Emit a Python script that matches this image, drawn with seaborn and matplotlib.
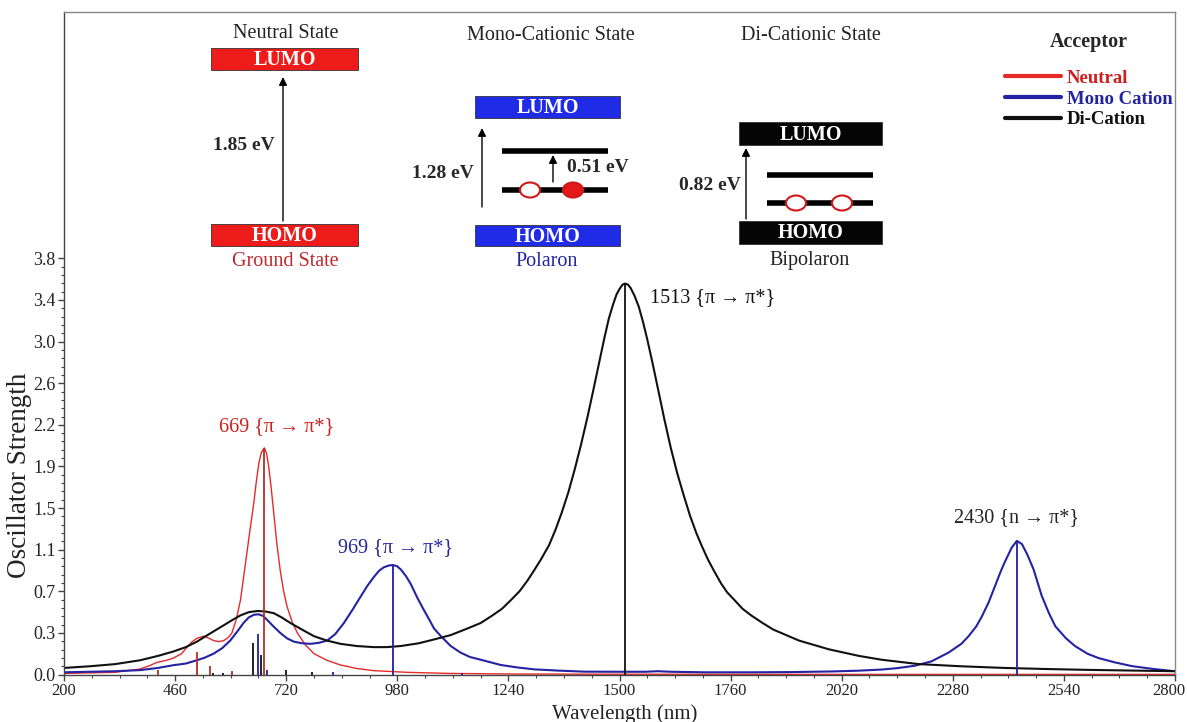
import matplotlib
matplotlib.use("Agg")
import numpy as np
import pandas as pd
import matplotlib.pyplot as plt
import matplotlib.transforms as mtransforms
import seaborn as sns
from matplotlib.ticker import AutoMinorLocator, FixedLocator
from matplotlib.patches import Rectangle, Ellipse
from matplotlib.lines import Line2D

# ---- spectra (wavelength nm, oscillator strength) ----
neutral_nm = [200, 260, 320, 378, 400, 417, 440, 456, 475, 488,
              500, 511, 527, 540, 550, 562, 574, 585, 593, 603,
              613, 620, 628, 636, 644, 650, 656, 662, 669, 674,
              679, 685, 691, 698, 706, 714, 722, 734, 746, 765,
              785, 815, 847, 885, 925, 1003, 1100, 1240, 1400, 1700,
              2000, 2400, 2800]
neutral_f = [0.01, 0.015, 0.02, 0.05, 0.08, 0.11, 0.13, 0.15, 0.19, 0.25,
             0.30, 0.33, 0.35, 0.33, 0.31, 0.30, 0.31, 0.34, 0.38, 0.50,
             0.68, 0.88, 1.11, 1.34, 1.56, 1.76, 1.93, 2.03, 2.07, 2.02,
             1.90, 1.70, 1.47, 1.20, 0.95, 0.76, 0.62, 0.48, 0.38, 0.27,
             0.19, 0.13, 0.087, 0.055, 0.035, 0.02, 0.01, 0.005, 0.003, 0.002,
             0.001, 0.001, 0.001]

mono_nm = [200, 260, 320, 378, 420, 456, 485, 511, 530, 550,
           570, 589, 605, 620, 632, 644, 655, 666, 675, 690,
           706, 722, 738, 757, 777, 797, 816, 835, 855, 875,
           894, 910, 925, 938, 949, 960, 969, 979, 988, 1000,
           1011, 1027, 1042, 1055, 1066, 1082, 1105, 1128, 1150, 1180,
           1222, 1260, 1300, 1360, 1418, 1500, 1560, 1590, 1620, 1700,
           1808, 1900, 2000, 2060, 2113, 2150, 2191, 2230, 2270, 2300,
           2317, 2335, 2348, 2364, 2379, 2392, 2402, 2418, 2430, 2442,
           2455, 2469, 2488, 2505, 2520, 2545, 2566, 2595, 2621, 2660,
           2700, 2750, 2800]
mono_f = [0.02, 0.025, 0.03, 0.04, 0.06, 0.085, 0.10, 0.13, 0.155, 0.19,
          0.24, 0.31, 0.39, 0.47, 0.52, 0.545, 0.55, 0.535, 0.50, 0.44,
          0.38, 0.33, 0.30, 0.285, 0.28, 0.29, 0.31, 0.37, 0.47, 0.59,
          0.71, 0.81, 0.89, 0.95, 0.98, 0.995, 1.0, 0.99, 0.96, 0.90,
          0.83, 0.70, 0.59, 0.50, 0.42, 0.35, 0.26, 0.20, 0.16, 0.13,
          0.087, 0.065, 0.047, 0.035, 0.026, 0.025, 0.025, 0.03, 0.025, 0.02,
          0.02, 0.022, 0.028, 0.035, 0.045, 0.058, 0.08, 0.12, 0.20, 0.28,
          0.35, 0.44, 0.53, 0.66, 0.81, 0.94, 1.03, 1.16, 1.22, 1.19,
          1.09, 0.96, 0.72, 0.56, 0.44, 0.33, 0.26, 0.19, 0.15, 0.11,
          0.076, 0.05, 0.03]

di_nm = [200, 260, 320, 378, 420, 456, 485, 511, 540, 574,
         595, 613, 633, 653, 672, 691, 710, 730, 757, 785,
         815, 847, 885, 925, 955, 988, 1030, 1066, 1105, 1144,
         1175, 1199, 1225, 1246, 1266, 1285, 1300, 1316, 1335, 1350,
         1365, 1380, 1395, 1410, 1425, 1440, 1453, 1465, 1475, 1485,
         1493, 1500, 1507, 1513, 1520, 1526, 1535, 1545, 1555, 1565,
         1577, 1590, 1605, 1620, 1635, 1650, 1665, 1680, 1693, 1707,
         1722, 1738, 1752, 1769, 1788, 1808, 1835, 1860, 1890, 1920,
         1955, 1990, 2025, 2060, 2113, 2200, 2300, 2400, 2500, 2600,
         2700, 2800]
di_f = [0.06, 0.075, 0.095, 0.13, 0.17, 0.21, 0.25, 0.30, 0.37, 0.45,
        0.50, 0.54, 0.57, 0.58, 0.575, 0.56, 0.52, 0.47, 0.41, 0.35,
        0.31, 0.28, 0.26, 0.25, 0.25, 0.26, 0.285, 0.32, 0.36, 0.42,
        0.47, 0.53, 0.60, 0.68, 0.76, 0.86, 0.95, 1.05, 1.18, 1.32,
        1.48, 1.66, 1.87, 2.10, 2.35, 2.62, 2.86, 3.08, 3.25, 3.38,
        3.47, 3.52, 3.56, 3.57, 3.56, 3.53, 3.46, 3.36, 3.22, 3.06,
        2.85, 2.61, 2.33, 2.07, 1.84, 1.64, 1.45, 1.29, 1.17, 1.05,
        0.94, 0.83, 0.75, 0.68, 0.60, 0.54, 0.47, 0.41, 0.36, 0.31,
        0.27, 0.23, 0.20, 0.17, 0.135, 0.095, 0.075, 0.06, 0.05, 0.042,
        0.036, 0.03]

# ---- stick transitions ----
neutral_stick_nm = [421, 511, 542, 592, 669]
neutral_stick_f = [0.04, 0.21, 0.08, 0.03, 2.07]
mono_stick_nm = [654, 674, 830, 969, 1132, 2430]
mono_stick_f = [0.37, 0.04, 0.025, 1.0, 0.015, 1.22]
di_stick_nm = [548, 571, 643, 660, 719, 780, 1513]
di_stick_f = [0.012, 0.012, 0.29, 0.18, 0.045, 0.025, 3.57]

states = ["Neutral", "Mono Cation", "Di-Cation"]
curve_colors = ["#e52a2a", "#2323a3", "#111111"]
stick_colors = ["#b03025", "#2020a0", "#111111"]
text_colors = ["#cc1f1f", "#2424a0", "#111111"]

peak_nm = [669, 969, 1513, 2430]
peak_f = [2.07, 1.0, 3.57, 1.22]
peak_text = ["669 {π → π*}", "969 {π → π*}", "1513 {π → π*}", "2430 {n → π*}"]

y_ticks = [0.0, 0.38, 0.76, 1.14, 1.52, 1.90, 2.28, 2.66, 3.04, 3.42, 3.80]
y_tick_labels = ["0.0", "0.3", "0.7", "1.1", "1.5", "1.9", "2.2", "2.6", "3.0", "3.4", "3.8"]
x_ticks = [200, 460, 720, 980, 1240, 1500, 1760, 2020, 2280, 2540, 2800]

state_names = ["Neutral State", "Mono-Cationic State", "Di-Cationic State"]
gap_labels = ["1.85 eV", "1.28 eV", "0.82 eV"]
polaron_gap = "0.51 eV"
ground_names = ["Ground State", "Polaron", "Bipolaron"]

sns.set_theme(style="ticks")
plt.rcParams["font.family"] = ["Liberation Serif", "DejaVu Serif"]

df = pd.concat([
    pd.DataFrame({"wavelength": neutral_nm, "strength": neutral_f, "state": states[0]}),
    pd.DataFrame({"wavelength": mono_nm, "strength": mono_f, "state": states[1]}),
    pd.DataFrame({"wavelength": di_nm, "strength": di_f, "state": states[2]}),
])

fig = plt.figure(figsize=(11.87, 7.22), dpi=100)
ax = fig.add_axes([64 / 1187, 47.5 / 722, 1111 / 1187, 662.5 / 722])

sns.lineplot(data=df, x="wavelength", y="strength", hue="state", size="state",
             palette=dict(zip(states, curve_colors)),
             sizes={states[0]: 1.0, states[1]: 1.5, states[2]: 1.5},
             estimator=None, sort=False, legend=False, ax=ax)

for s_nm, s_f, c in [(neutral_stick_nm, neutral_stick_f, stick_colors[0]),
                     (mono_stick_nm, mono_stick_f, stick_colors[1]),
                     (di_stick_nm, di_stick_f, stick_colors[2])]:
    ax.vlines(s_nm, 0, s_f, colors=c, lw=1.3, zorder=3)

# peak labels
offsets = [(28, 0.19), (7, 0.155), (204, -0.13), (0, 0.21)]
label_colors = [text_colors[0], text_colors[1], "#111111", "#222222"]
for nm, f, txt, (dx, dy), c in zip(peak_nm, peak_f, peak_text, offsets, label_colors):
    ax.text(nm + dx, f + dy, txt, ha="center", va="center", fontsize=14.5, color=c)

ax.set_xlim(200, 2800)
ax.set_ylim(0, 6.05)
ax.set_xticks(x_ticks)
ax.set_yticks(y_ticks)
ax.set_yticklabels(y_tick_labels)
ax.xaxis.set_minor_locator(AutoMinorLocator(4))
# minor y ticks only under the labelled range
ax.yaxis.set_minor_locator(FixedLocator(np.arange(0, 3.81, 0.076)))
ax.tick_params(axis="x", which="major", direction="out", length=4, width=1,
               labelsize=12, color="#444444", labelcolor="#222222", pad=2)
ax.tick_params(axis="y", which="major", direction="out", length=4, width=1,
               labelsize=13, color="#444444", labelcolor="#222222", pad=2)
ax.tick_params(axis="both", which="minor", direction="out", length=2, width=0.8, color="#444444")
ax.set_xlabel("Wavelength (nm)", fontsize=15, color="#222222")
ax.set_ylabel("Oscillator Strength", fontsize=19.5, color="#222222")
ax.xaxis.set_label_coords(0.505, -0.045)
ax.yaxis.set_label_coords(-0.029, 0.30)
for side in ["left", "bottom"]:
    ax.spines[side].set_color("#444444")
for side in ["top", "right"]:
    ax.spines[side].set_color("#888888")
for sp in ax.spines.values():
    sp.set_linewidth(1)

# keep the last x label inside the canvas
last = ax.get_xticklabels()[-1]
last.set_transform(last.get_transform() + mtransforms.ScaledTranslation(-6 / 100, 0, fig.dpi_scale_trans))

handles = [Line2D([0], [0], color=c, lw=3) for c in curve_colors]
leg = ax.legend(handles, states, title="Acceptor", frameon=False, loc="upper left",
                bbox_to_anchor=(0.8315, 0.996), handlelength=3.0, handletextpad=0.3,
                labelspacing=0.2, prop={"weight": "bold", "size": 13.5},
                title_fontproperties={"weight": "bold", "size": 14.5})
for t, c in zip(leg.get_texts(), text_colors):
    t.set_color(c)
leg._legend_box.sep = 13

# ---- energy level schematics (overlay in pixel layout) ----
ov = fig.add_axes([0, 0, 1, 1], zorder=5)
ov.set_xlim(0, 1187)
ov.set_ylim(722, 0)
ov.axis("off")
ov.patch.set_alpha(0)


def level_box(x0, x1, y0, y1, color, label):
    ov.add_patch(Rectangle((x0, y0), x1 - x0, y1 - y0, facecolor=color,
                           edgecolor="#333333", lw=0.6))
    ov.text((x0 + x1) / 2, (y0 + y1) / 2 + 1, label, color="white", fontsize=14.5,
            fontweight="bold", ha="center", va="center")


def up_arrow(x, y0, y1, lw=1.0):
    ov.annotate("", xy=(x, y1), xytext=(x, y0),
                arrowprops=dict(arrowstyle="-|>", color="black", lw=lw,
                                mutation_scale=12, shrinkA=0, shrinkB=0))


def carrier(x, y, filled):
    ov.add_patch(Ellipse((x, y), 20, 15, facecolor="#e41a1a" if filled else "white",
                         edgecolor="#d01818", lw=1.5, zorder=6))


# neutral
ov.text(286, 33, state_names[0], fontsize=14.5, ha="center", va="center", color="#222222")
level_box(211, 358, 48, 70, "#ee1b1b", "LUMO")
level_box(211, 358, 224, 246, "#ee1b1b", "HOMO")
up_arrow(283, 221, 77)
ov.text(244, 145, gap_labels[0], fontsize=14, fontweight="bold", ha="center", va="center")
ov.text(285, 261, ground_names[0], fontsize=14.5, ha="center", va="center", color="#c0282d")

# mono cation
ov.text(551, 35, state_names[1], fontsize=14.5, ha="center", va="center", color="#222222")
level_box(475, 620, 96, 118, "#1f2be6", "LUMO")
level_box(475, 620, 225, 246, "#1f2be6", "HOMO")
up_arrow(482, 207, 128)
ov.text(443, 174, gap_labels[1], fontsize=14, fontweight="bold", ha="center", va="center")
ov.plot([502, 608], [151, 151], color="black", lw=4, solid_capstyle="butt")
ov.plot([502, 608], [190, 190], color="black", lw=4, solid_capstyle="butt")
up_arrow(553, 182, 155, lw=1.0)
ov.text(598, 167, polaron_gap, fontsize=14, fontweight="bold", ha="center", va="center")
carrier(530, 190, False)
carrier(573, 190, True)
ov.text(547, 262, ground_names[1], fontsize=14.5, ha="center", va="center", color="#2424a0")

# di cation
ov.text(811, 35, state_names[2], fontsize=14.5, ha="center", va="center", color="#222222")
level_box(739, 882, 122, 145, "#050505", "LUMO")
level_box(739, 882, 221, 244, "#050505", "HOMO")
up_arrow(746, 219, 148)
ov.text(710, 186, gap_labels[2], fontsize=14, fontweight="bold", ha="center", va="center")
ov.plot([767, 873], [175, 175], color="black", lw=4, solid_capstyle="butt")
ov.plot([767, 873], [203, 203], color="black", lw=4, solid_capstyle="butt")
carrier(796, 203, False)
carrier(842, 203, False)
ov.text(810, 260, ground_names[2], fontsize=14.5, ha="center", va="center", color="#222222")

fig.savefig("out.png", dpi=100)
